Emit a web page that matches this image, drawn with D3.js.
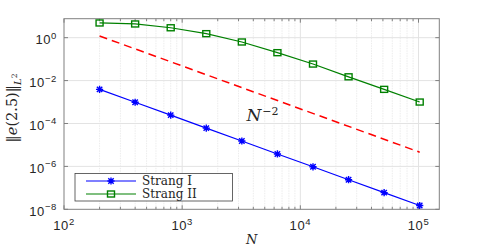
<!DOCTYPE html>
<html>
<head>
<meta charset="utf-8">
<script src="https://cdn.jsdelivr.net/npm/d3@7"></script>
<style>
  html, body { margin: 0; padding: 0; background: #fff; }
  svg { display: block; }
  .tick-lbl { font-family: "Liberation Sans", Arial, sans-serif; font-size: 13px; fill: #262626; }
  .math { font-family: "DejaVu Serif", "Liberation Serif", serif; fill: #262626; }
</style>
</head>
<body>
<div id="chart"></div>
<script>
// data
const N = [200, 400, 800, 1600, 3200, 6400, 12800, 25600, 51200, 102400];
const strangI = [3.9e-3, 9.8e-4, 2.45e-4, 6.1e-5, 1.53e-5, 3.8e-6, 9.6e-7, 2.4e-7, 6.0e-8, 1.5e-8];
const strangII = [4.85, 4.36, 2.9, 1.54, 0.63, 0.20, 0.059, 0.015, 3.9e-3, 1.0e-3];
const refN = [200, 102400];
const refErr = [1.2, 4.6e-6];
const xTicks = [1e2, 1e3, 1e4, 1e5];
const yTicks = [1e-8, 1e-6, 1e-4, 1e-2, 1e0];
const xTickExp = ['2', '3', '4', '5'];
const yTickExp = ['-8', '-6', '-4', '-2', '0'];
const seriesNames = ['Strang I', 'Strang II'];

const W = 485, H = 249;
const M = { t: 18.7, r: 45.7, b: 39.7, l: 64 };
const C = { blue: '#0000ff', green: '#008000', red: '#ff0000', axis: '#808080', grid: '#e3e3e3', minor: '#ececec' };

const svg = d3.select('#chart').append('svg')
  .attr('width', W)
  .attr('height', H);

const x = d3.scaleLog()
  .domain([1e2, 1.5e5])
  .range([M.l, W - M.r]);
const y = d3.scaleLog()
  .domain([1e-8, Math.pow(10, 0.885)])
  .range([H - M.b, M.t]);

const x0 = M.l, x1 = W - M.r, y0 = H - M.b, y1 = M.t;

// minor x positions
const xMinor = [];
for (let e = 2; e <= 5; e++) {
  for (let k = 2; k <= 9; k++) {
    const v = k * Math.pow(10, e);
    if (v < x.domain()[1]) xMinor.push(v);
  }
}

// grid
svg.append('g').selectAll('line')
  .data(xMinor)
  .enter().append('line')
  .attr('x1', d => x(d)).attr('x2', d => x(d))
  .attr('y1', y0).attr('y2', y1)
  .attr('stroke', C.minor)
  .attr('stroke-width', 1)
  .attr('stroke-dasharray', '1.5 1');
svg.append('g').selectAll('line')
  .data(xTicks.slice(1))
  .enter().append('line')
  .attr('x1', d => x(d)).attr('x2', d => x(d))
  .attr('y1', y0).attr('y2', y1)
  .attr('stroke', C.grid)
  .attr('stroke-width', 1);
svg.append('g').selectAll('line')
  .data(yTicks.slice(1))
  .enter().append('line')
  .attr('x1', x0).attr('x2', x1)
  .attr('y1', d => y(d)).attr('y2', d => y(d))
  .attr('stroke', C.grid)
  .attr('stroke-width', 1);

// axes box with inward ticks
const axG = svg.append('g').attr('stroke', C.axis).attr('stroke-width', 1).attr('fill', 'none');
axG.append('rect')
  .attr('x', x0).attr('y', y1)
  .attr('width', x1 - x0).attr('height', y0 - y1);
[[y0, -1], [y1, 1]].forEach(([yy, dir]) => {
  axG.selectAll(null).data(xTicks).enter().append('line')
    .attr('x1', d => x(d)).attr('x2', d => x(d))
    .attr('y1', yy).attr('y2', yy + dir * 4);
  axG.selectAll(null).data(xMinor).enter().append('line')
    .attr('x1', d => x(d)).attr('x2', d => x(d))
    .attr('y1', yy).attr('y2', yy + dir * 2.5);
});
[[x0, 1], [x1, -1]].forEach(([xx, dir]) => {
  axG.selectAll(null).data(yTicks).enter().append('line')
    .attr('x1', xx).attr('x2', xx + dir * 4)
    .attr('y1', d => y(d)).attr('y2', d => y(d));
});

// tick labels (10 with superscript)
function powLabel(g, exp) {
  g.append('tspan').text('10');
  g.append('tspan')
    .attr('dy', -5.5)
    .style('font-size', '9.5px')
    .text(exp.replace('-', '\u2212'));
}
xTicks.forEach((t, i) => {
  const tx = svg.append('text')
    .attr('class', 'tick-lbl')
    .attr('x', x(t))
    .attr('y', y0 + 21)
    .attr('text-anchor', 'middle')
    .attr('letter-spacing', 0.6);
  powLabel(tx, xTickExp[i]);
});
yTicks.forEach((t, i) => {
  const ty = svg.append('text')
    .attr('class', 'tick-lbl')
    .attr('x', x0 - 7)
    .attr('y', y(t) + 6.5)
    .attr('text-anchor', 'end')
    .attr('letter-spacing', 0.6);
  powLabel(ty, yTickExp[i]);
});

// reference slope line
svg.append('path')
  .datum(refN.map((n, i) => [n, refErr[i]]))
  .attr('fill', 'none')
  .attr('stroke', C.red)
  .attr('stroke-width', 1.5)
  .attr('stroke-dasharray', '8 5')
  .attr('d', d3.line().x(d => x(d[0])).y(d => y(d[1])));

const line = d3.line().x(d => x(d[0])).y(d => y(d[1]));

function star(g, cx, cy, color) {
  const r = 3.6, rd = r * 0.75;
  g.append('path')
    .attr('d', `M${cx - r},${cy}L${cx + r},${cy}M${cx},${cy - r}L${cx},${cy + r}` +
      `M${cx - rd},${cy - rd}L${cx + rd},${cy + rd}M${cx - rd},${cy + rd}L${cx + rd},${cy - rd}`)
    .attr('stroke', color)
    .attr('stroke-width', 1.4)
    .attr('fill', 'none');
}
function square(g, cx, cy, color) {
  g.append('rect')
    .attr('x', cx - 3.5).attr('y', cy - 3)
    .attr('width', 7).attr('height', 6)
    .attr('fill', 'none')
    .attr('stroke', color)
    .attr('stroke-width', 1.4);
}

const series = [
  { name: seriesNames[0], vals: strangI, color: C.blue, mark: star },
  { name: seriesNames[1], vals: strangII, color: C.green, mark: square }
];
series.forEach(s => {
  const pts = N.map((n, i) => [n, s.vals[i]]);
  svg.append('path')
    .datum(pts)
    .attr('fill', 'none')
    .attr('stroke', s.color)
    .attr('stroke-width', 1.2)
    .attr('d', line);
  const g = svg.append('g');
  pts.forEach(p => s.mark(g, x(p[0]), y(p[1]), s.color));
});

// N^-2 annotation
const ann = svg.append('text')
  .attr('class', 'math')
  .attr('x', x(3500))
  .attr('y', y(1.3e-4))
  .style('font-size', '17px');
ann.append('tspan').style('font-style', 'italic').text('N');
ann.append('tspan').attr('dy', -6.5).attr('dx', 1).style('font-size', '11px').text('\u22122');

// axis labels
svg.append('text')
  .attr('class', 'math')
  .attr('x', (x0 + x1) / 2)
  .attr('y', 244)
  .attr('text-anchor', 'middle')
  .style('font-size', '13px')
  .style('font-style', 'italic')
  .text('N');

const yl = svg.append('text')
  .attr('class', 'math')
  .attr('transform', `translate(17,108) rotate(-90)`)
  .attr('text-anchor', 'middle')
  .style('font-size', '14.5px');
yl.append('tspan').text('\u2016');
yl.append('tspan').style('font-style', 'italic').text('e');
yl.append('tspan').text('(2.5)\u2016');
yl.append('tspan').attr('dy', 3.5).style('font-size', '10px').style('font-style', 'italic').text('L');
yl.append('tspan').attr('dy', -3.5).style('font-size', '7.5px').text('2');

// legend
const lg = svg.append('g');
lg.append('rect')
  .attr('x', 75).attr('y', 173.5)
  .attr('width', 157.5).attr('height', 27.5)
  .attr('fill', '#fff')
  .attr('stroke', '#404040')
  .attr('stroke-width', 0.8);
series.forEach((s, i) => {
  const ly = 181 + i * 13;
  lg.append('line')
    .attr('x1', 86).attr('x2', 136)
    .attr('y1', ly).attr('y2', ly)
    .attr('stroke', s.color)
    .attr('stroke-width', 1.2);
  s.mark(lg, 111, ly, s.color);
  lg.append('text')
    .attr('class', 'math')
    .attr('x', 142)
    .attr('y', ly + 4)
    .style('font-size', '12px')
    .text(s.name);
});
</script>
</body>
</html>
